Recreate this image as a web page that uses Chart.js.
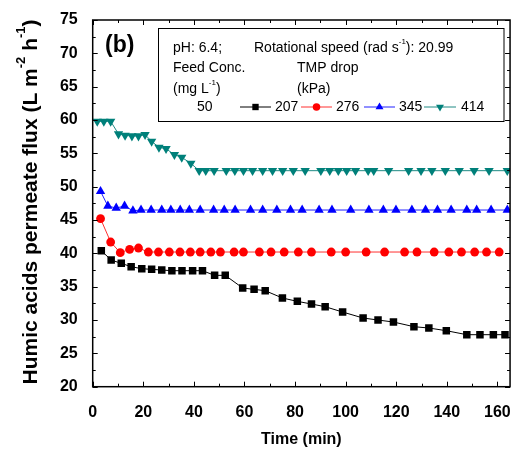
<!DOCTYPE html>
<html>
<head>
<meta charset="utf-8">
<script src="https://cdn.jsdelivr.net/npm/chart.js@4.4.1/dist/chart.umd.min.js"></script>
<style>
  html, body { margin: 0; padding: 0; background: #fff; }
  #fluxChart { display: block; }
</style>
</head>
<body>
<canvas id="fluxChart" width="519" height="450"></canvas>
<script>
// Permeate flux (L m-2 h-1) against time (min) for each TMP drop
var time207 = [3.4, 7.3, 11.3, 15.2, 19.4, 23.3, 27.3, 31.3, 35.3, 39.5, 43.4, 48.2, 52.4, 59.3, 63.8, 68.2, 75.0, 80.9, 86.5, 91.9, 98.8, 106.9, 112.8, 118.9, 127.0, 132.9, 139.8, 147.9, 153.1, 158.4, 163.0];
var flux207 = [40.4, 39.0, 38.5, 38.0, 37.7, 37.6, 37.5, 37.4, 37.4, 37.4, 37.4, 36.7, 36.7, 34.8, 34.6, 34.4, 33.3, 32.8, 32.4, 32.0, 31.2, 30.3, 30.0, 29.7, 29.0, 28.8, 28.4, 27.8, 27.8, 27.8, 27.8];

var time276 = [3.1, 7.1, 10.9, 14.6, 18.1, 22.0, 26.0, 30.3, 34.5, 38.6, 42.5, 46.7, 50.5, 55.9, 59.6, 65.9, 70.5, 75.7, 81.3, 86.5, 94.3, 100.0, 108.1, 115.4, 123.3, 128.2, 135.0, 140.8, 145.8, 151.0, 155.7, 160.7];
var flux276 = [45.2, 41.7, 40.1, 40.6, 40.8, 40.2, 40.2, 40.2, 40.2, 40.2, 40.2, 40.2, 40.2, 40.2, 40.2, 40.2, 40.2, 40.2, 40.2, 40.2, 40.2, 40.2, 40.2, 40.2, 40.2, 40.2, 40.2, 40.2, 40.2, 40.2, 40.2, 40.2];

var time345 = [3.1, 6.0, 9.3, 12.6, 15.9, 19.1, 23.1, 27.3, 30.9, 34.6, 38.2, 42.5, 47.8, 52.0, 56.3, 62.4, 67.2, 72.8, 78.2, 82.8, 89.5, 94.6, 102.0, 109.2, 114.9, 119.9, 126.2, 131.6, 136.3, 141.7, 147.9, 151.8, 157.5, 163.9];
var flux345 = [49.3, 47.1, 46.8, 47.1, 46.4, 46.5, 46.5, 46.5, 46.5, 46.5, 46.5, 46.5, 46.5, 46.5, 46.5, 46.5, 46.5, 46.5, 46.5, 46.5, 46.5, 46.5, 46.5, 46.5, 46.5, 46.5, 46.5, 46.5, 46.5, 46.5, 46.5, 46.5, 46.5, 46.5];

var time414 = [1.8, 4.4, 7.1, 10.2, 12.8, 15.5, 18.1, 20.7, 23.3, 26.2, 29.0, 32.3, 35.2, 38.8, 42.1, 44.7, 48.0, 52.8, 56.2, 59.6, 63.2, 67.2, 71.1, 75.1, 79.3, 84.0, 90.2, 93.7, 97.1, 100.4, 103.9, 108.9, 111.1, 117.0, 124.9, 129.8, 134.1, 139.4, 144.9, 150.8, 156.7, 163.9];
var flux414 = [59.8, 59.8, 59.8, 57.9, 57.7, 57.6, 57.6, 57.8, 56.8, 55.9, 55.7, 54.8, 54.4, 53.5, 52.4, 52.4, 52.4, 52.4, 52.4, 52.4, 52.4, 52.4, 52.4, 52.4, 52.4, 52.4, 52.4, 52.4, 52.4, 52.4, 52.4, 52.4, 52.4, 52.4, 52.4, 52.4, 52.4, 52.4, 52.4, 52.4, 52.4, 52.4];

var xTicks = [0, 20, 40, 60, 80, 100, 120, 140, 160];
var yTicks = [20, 25, 30, 35, 40, 45, 50, 55, 60, 65, 70, 75];

var FONT = '"Liberation Sans", Arial, sans-serif';

function toPoints(xs, ys) {
    return xs.map(function (x, i) { return { x: x, y: ys[i] }; });
}

function series(label, xs, ys, lineColor, markColor, style, radius, rotation) {
    return {
        label: label,
        data: toPoints(xs, ys),
        borderColor: lineColor,
        backgroundColor: markColor,
        borderWidth: 1,
        pointStyle: style,
        pointRadius: radius,
        pointRotation: rotation || 0,
        pointBorderWidth: 0,
        pointBackgroundColor: markColor,
        tension: 0
    };
}

var datasets = [
    series('207', time207, flux207, '#000000', '#000000', 'rect', 5.3),
    series('276', time276, flux276, '#ff3030', '#ff0000', 'circle', 4.4),
    series('345', time345, flux345, '#2020ff', '#0000ff', 'triangle', 5.4),
    series('414', time414, flux414, '#1f8a84', '#00807a', 'triangle', 5.4, 180)
];

// draw text pieces in a row, some as superscripts
function drawRich(ctx, parts, x, y, size, bold) {
    var w = bold ? 'bold ' : '';
    var supSize = Math.round(size * 0.6);
    var cx = x;
    parts.forEach(function (p) {
        var sup = typeof p !== 'string';
        var t = sup ? p.sup : p;
        ctx.font = w + (sup ? supSize : size) + 'px ' + FONT;
        ctx.fillText(t, cx, sup ? y - size * 0.45 : y);
        cx += ctx.measureText(t).width;
    });
    return cx - x;
}

function measureRich(ctx, parts, size, bold) {
    var w = bold ? 'bold ' : '';
    var supSize = Math.round(size * 0.6);
    var total = 0;
    parts.forEach(function (p) {
        var sup = typeof p !== 'string';
        ctx.font = w + (sup ? supSize : size) + 'px ' + FONT;
        total += ctx.measureText(sup ? p.sup : p).width;
    });
    return total;
}

function drawSample(ctx, ds, x1, x2, y) {
    ctx.save();
    ctx.strokeStyle = ds.borderColor;
    ctx.lineWidth = 1;
    ctx.beginPath();
    ctx.moveTo(x1, y);
    ctx.lineTo(x2, y);
    ctx.stroke();
    ctx.fillStyle = ds.pointBackgroundColor;
    ctx.strokeStyle = ds.pointBackgroundColor;
    Chart.helpers.drawPoint(ctx, {
        pointStyle: ds.pointStyle,
        rotation: ds.pointRotation,
        radius: ds.pointRadius * 0.85,
        borderWidth: 0
    }, (x1 + x2) / 2, y);
    ctx.restore();
}

var framePlugin = {
    id: 'frame',
    afterDraw: function (chart) {
        var ctx = chart.ctx;
        var a = chart.chartArea;
        var xs = chart.scales.x, ys = chart.scales.y;
        ctx.save();

        // axis frame
        ctx.strokeStyle = '#000';
        ctx.lineWidth = 1.5;
        ctx.strokeRect(a.left, a.top, a.right - a.left, a.bottom - a.top);

        // inward tick marks on all four sides
        ctx.lineWidth = 1;
        ctx.beginPath();
        for (var v = 0; v <= 165; v += 10) {
            var px = Math.round(xs.getPixelForValue(v)) + 0.5;
            var len = v % 20 === 0 ? 5 : 3;
            ctx.moveTo(px, a.bottom); ctx.lineTo(px, a.bottom - len);
            ctx.moveTo(px, a.top); ctx.lineTo(px, a.top + len);
        }
        for (var w = 20; w <= 75; w += 2.5) {
            var py = Math.round(ys.getPixelForValue(w)) + 0.5;
            var l2 = w % 5 === 0 ? 5 : 3;
            ctx.moveTo(a.left, py); ctx.lineTo(a.left + l2, py);
            ctx.moveTo(a.right, py); ctx.lineTo(a.right - l2, py);
        }
        ctx.stroke();

        // axis titles
        ctx.fillStyle = '#000';
        ctx.textBaseline = 'middle';
        ctx.textAlign = 'center';
        ctx.font = 'bold 16px ' + FONT;
        ctx.fillText('Time (min)', (a.left + a.right) / 2, 440);

        ctx.textAlign = 'left';
        var yTitle = ['Humic acids permeate flux (L m', { sup: '-2' }, ' h', { sup: '-1' }, ')'];
        var tw = measureRich(ctx, yTitle, 21, true);
        ctx.save();
        ctx.translate(31, 202);
        ctx.rotate(-Math.PI / 2);
        drawRich(ctx, yTitle, -tw / 2, 0, 21, true);
        ctx.restore();

        // panel tag
        ctx.font = 'bold 23px ' + FONT;
        ctx.fillText('(b)', 105, 46);

        // legend box
        ctx.fillStyle = '#fff';
        ctx.fillRect(158.5, 28.5, 345.5, 93);
        ctx.strokeStyle = '#000';
        ctx.lineWidth = 1;
        ctx.strokeRect(158.5, 28.5, 345.5, 93);

        ctx.fillStyle = '#000';
        drawRich(ctx, ['pH: 6.4;'], 173, 48, 14, false);
        drawRich(ctx, ['Rotational speed (rad s', { sup: '-1' }, '): 20.99'], 254, 48, 14, false);
        drawRich(ctx, ['Feed Conc.'], 173, 68, 14, false);
        drawRich(ctx, ['TMP drop'], 297, 68, 14, false);
        drawRich(ctx, ['(mg L', { sup: '-1' }, ')'], 173, 89, 14, false);
        drawRich(ctx, ['(kPa)'], 297, 89, 14, false);
        drawRich(ctx, ['50'], 197, 107, 14, false);

        var sampleX = [[240, 271], [301, 332], [364, 395], [424, 456]];
        var labelX = [275, 336, 399, 461];
        chart.data.datasets.forEach(function (ds, i) {
            drawSample(ctx, ds, sampleX[i][0], sampleX[i][1], 107);
            ctx.fillStyle = '#000';
            drawRich(ctx, [ds.label], labelX[i], 107, 14, false);
        });

        ctx.restore();
    }
};

new Chart(document.getElementById('fluxChart').getContext('2d'), {
    type: 'line',
    data: { datasets: datasets },
    options: {
        responsive: false,
        animation: false,
        devicePixelRatio: 1,
        layout: { padding: { top: 20, right: 8, left: 0, bottom: 0 } },
        plugins: {
            legend: { display: false },
            tooltip: { enabled: false }
        },
        scales: {
            x: {
                type: 'linear',
                min: 0,
                max: 165,
                afterFit: function (s) { s.height = 63.3; },
                afterBuildTicks: function (s) {
                    s.ticks = xTicks.map(function (v) { return { value: v }; });
                },
                grid: { display: false },
                border: { display: false },
                ticks: {
                    padding: 8,
                    maxRotation: 0,
                    color: '#000',
                    font: { family: FONT, size: 16, weight: 'bold' }
                }
            },
            y: {
                type: 'linear',
                min: 20,
                max: 75,
                afterFit: function (s) { s.width = 92.7; },
                afterBuildTicks: function (s) {
                    s.ticks = yTicks.map(function (v) { return { value: v }; });
                },
                grid: { display: false },
                border: { display: false },
                ticks: {
                    padding: 7,
                    color: '#000',
                    font: { family: FONT, size: 16, weight: 'bold' }
                }
            }
        }
    },
    plugins: [framePlugin]
});
</script>
</body>
</html>
